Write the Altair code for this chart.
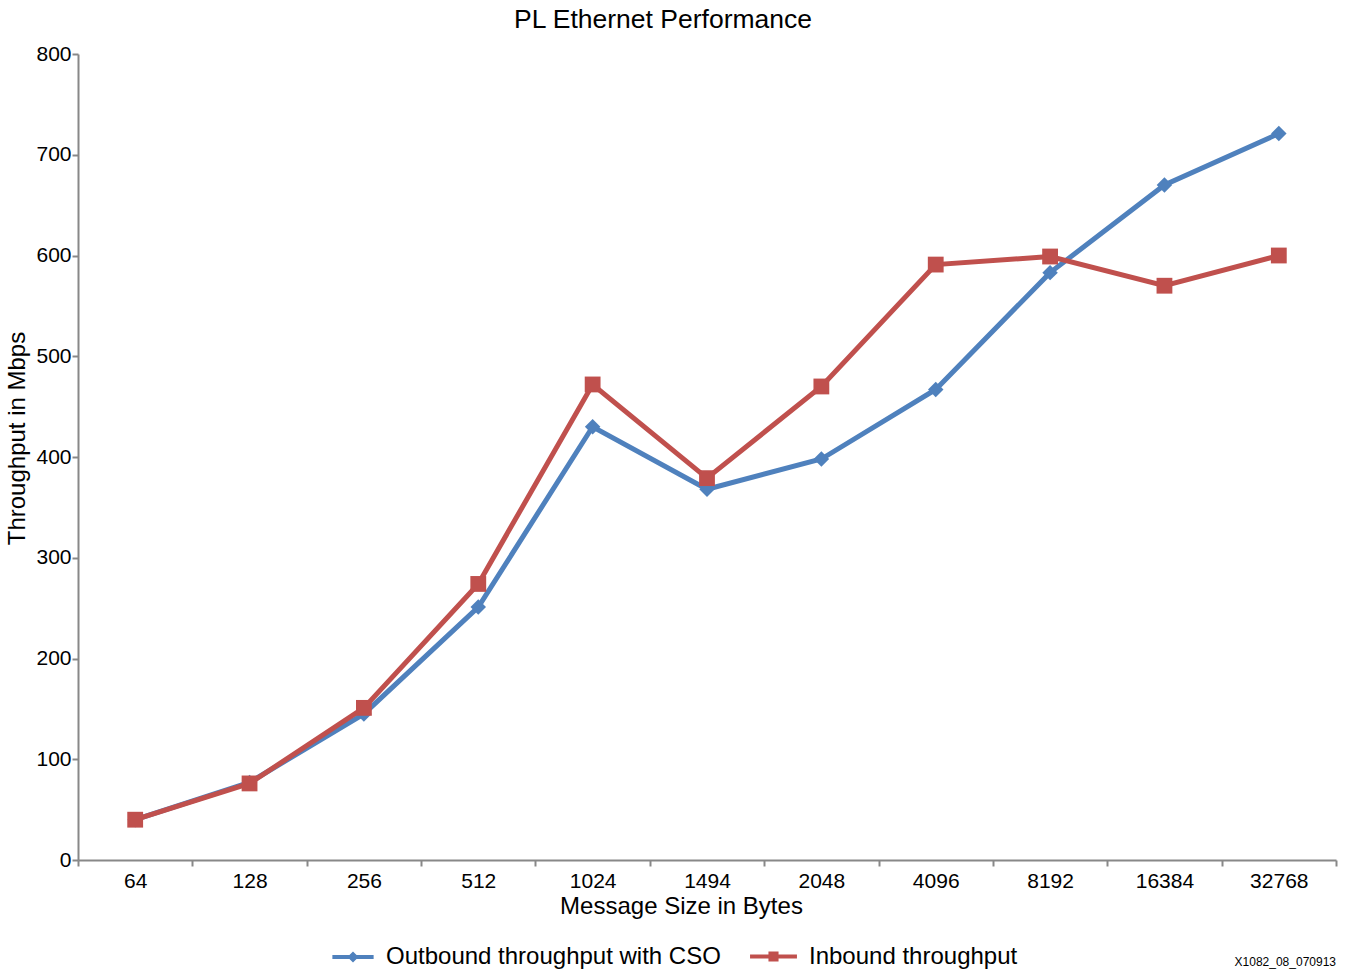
import altair as alt
import pandas as pd

sizes = ["64", "128", "256", "512", "1024", "1494", "2048", "4096", "8192", "16384", "32768"]
outbound = [40, 77, 145, 251, 430, 368, 398, 467, 583, 670, 721]
inbound = [40, 76, 151, 274, 472, 379, 470, 591, 599, 570, 600]
series_names = ["Outbound throughput with CSO", "Inbound throughput"]
colors = ["#4F81BD", "#C0504D"]

rows = []
for s, v in zip(sizes, outbound):
    rows.append({"size": s, "value": v, "series": series_names[0]})
for s, v in zip(sizes, inbound):
    rows.append({"size": s, "value": v, "series": series_names[1]})
df = pd.DataFrame(rows)

FONT = "Liberation Sans"

x_enc = alt.X(
    "size:N", sort=sizes,
    scale=alt.Scale(type="band", paddingInner=0, paddingOuter=0),
    axis=alt.Axis(title="Message Size in Bytes", labelAngle=0, tickBand="extent",
                  titleX=603, titlePadding=3, labelPadding=4),
)
y_enc = alt.Y(
    "value:Q",
    scale=alt.Scale(domain=[0, 800], nice=False),
    axis=alt.Axis(title="Throughput in Mbps", values=list(range(0, 801, 100)),
                  grid=False, titleY=384, titlePadding=6, labelPadding=1),
)

diamond_path = "M-1,-0.1 L1,-0.1 L1,0.1 L-1,0.1 Z M0,-0.27 L0.27,0 L0,0.27 L-0.27,0 Z"
square_path = "M-1,-0.087 L1,-0.087 L1,0.087 L-1,0.087 Z M-0.215,-0.215 L0.215,-0.215 L0.215,0.215 L-0.215,0.215 Z"
legend_paths = [diamond_path, square_path]
legend_x = [254, 672]
legend_y = [882, 879]
legend_sym = [1700, 2200]

color_scale = alt.Scale(domain=series_names, range=colors)

lines = alt.Chart(df).mark_line(strokeWidth=5).encode(
    x=x_enc, y=y_enc, color=alt.Color("series:N", scale=color_scale, legend=None), detail="series:N"
)

points = alt.Chart(df).transform_calculate(
    mk="datum.series === '%s' ? 'diamond' : 'square'" % series_names[0],
    sz="datum.series === '%s' ? 240 : 250" % series_names[0],
).mark_point(filled=True, opacity=1).encode(
    x=x_enc, y=y_enc,
    color=alt.Color("series:N", scale=color_scale, legend=None),
    shape=alt.Shape("mk:N", scale=None),
    size=alt.Size("sz:Q", scale=None),
)

# one legend per series; these layers draw no marks (no rows survive the filter)
legend_layers = []
for name, col, path, lx, ly, ss in zip(series_names, colors, legend_paths, legend_x, legend_y, legend_sym):
    legend_layers.append(
        alt.Chart(df).transform_filter("datum.value < 0").mark_point(
            filled=True, opacity=1, color=col
        ).encode(
            shape=alt.Shape(
                "series:N",
                scale=alt.Scale(domain=[name], range=[path]),
                legend=alt.Legend(
                    title=None, orient="none", direction="horizontal",
                    legendX=lx, legendY=ly,
                    symbolSize=ss, symbolStrokeWidth=0, symbolOpacity=1,
                    symbolFillColor=col,
                    labelFontSize=24, labelFont=FONT, labelColor="#000000", labelLimit=600,
                    labelOffset=12, padding=0,
                ),
            ),
        )
    )

note = alt.Chart(pd.DataFrame({"t": ["X1082_08_070913"]})).mark_text(
    align="right", baseline="middle", fontSize=12, font=FONT, color="#000000"
).encode(text="t:N", x=alt.value(1258), y=alt.value(908))

chart = alt.layer(lines, points, *legend_layers, note).resolve_scale(
    shape="independent"
).resolve_legend(shape="independent").properties(
    width=1258, height=806,
    background="white",
    title=alt.TitleParams("PL Ethernet Performance", fontSize=26.5, font=FONT, fontWeight="normal",
                          color="#000000", anchor="middle", dx=-44, offset=10),
    padding={"left": 78, "top": 54, "right": 10, "bottom": 113},
    autosize=alt.AutoSizeParams(type="none"),
).configure_view(stroke=None).configure_axis(
    domainColor="#888888", domainWidth=2, tickColor="#888888", tickWidth=2, tickSize=6,
    labelFont=FONT, labelFontSize=21, labelColor="#000000",
    titleFont=FONT, titleFontSize=24, titleFontWeight="normal", titleColor="#000000",
)

chart.save("out.html", embed_options={"renderer": "svg", "actions": False})
